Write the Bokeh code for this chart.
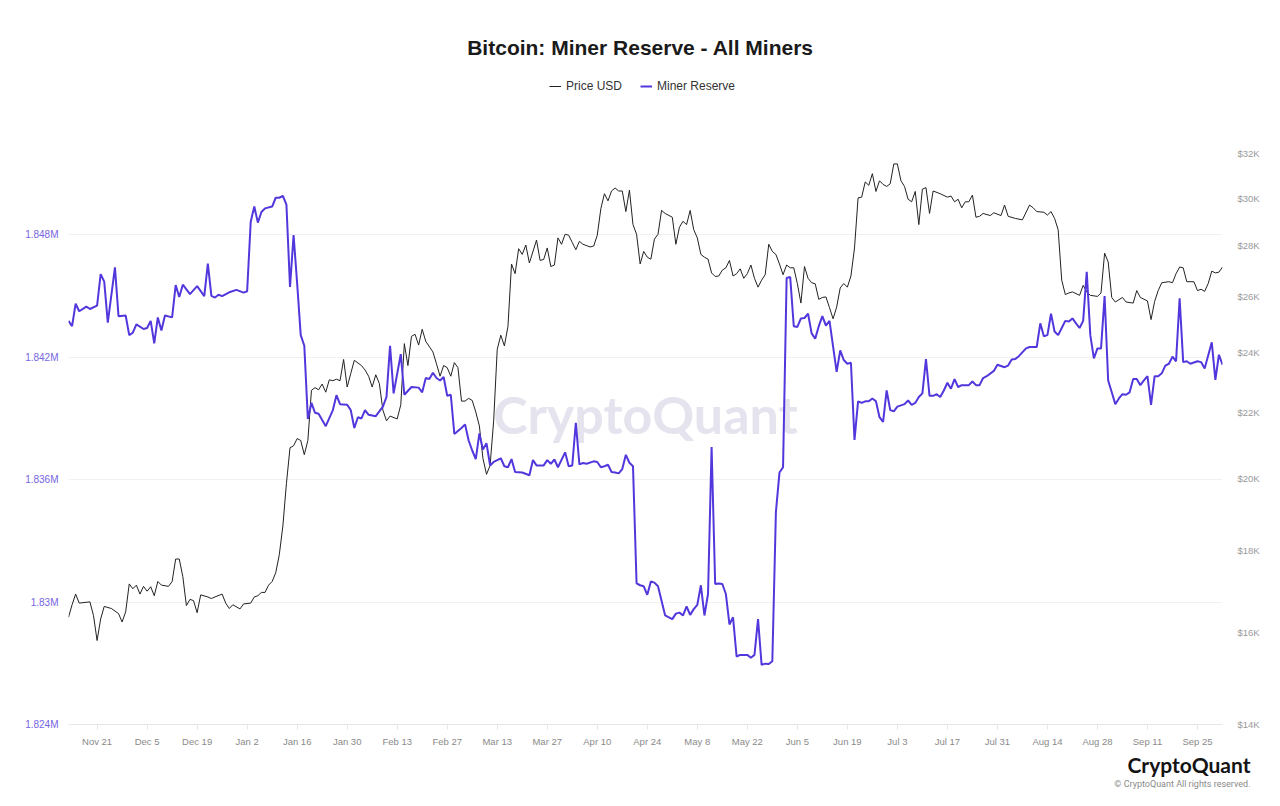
import numpy as np
import pandas as pd
from bokeh.plotting import figure
from bokeh.models import (Range1d, LogAxis, LogScale, FixedTicker, CustomJSTickFormatter,
                          Label, Legend, LegendItem, Title)
from bokeh.embed import file_html
from bokeh.resources import INLINE

# ---------------- data ----------------
START = "2022-11-13"          # day 0 of the series
X_END_DAY = 323               # last day shown on the x axis

reserve_day = [
    0, 1, 2, 3, 5, 6, 8, 9, 10, 11, 13, 14, 16, 17, 18, 19, 21, 22, 23, 24, 25, 26, 27, 29, 30,
    31, 32, 34, 36, 38, 39, 40, 41, 42, 43, 45, 47, 49, 50, 51, 52, 53, 54, 55, 57, 58, 59, 60,
    61, 62, 63, 64, 65, 66, 67, 68, 69, 70, 72, 74, 75, 76, 78, 79, 80, 81, 82, 83, 84, 86, 88,
    89, 90, 91, 93, 94, 96, 98, 99, 100, 101, 102, 103, 104, 105, 106, 107, 108, 110, 111, 112,
    113, 114, 115, 116, 117, 118, 119, 121, 122, 123, 124, 125, 127, 129, 130, 131, 133, 134,
    135, 136, 137, 139, 140, 141, 142, 143, 144, 145, 147, 148, 149, 150, 151, 152, 153, 154,
    155, 156, 157, 158, 159, 160, 161, 162, 163, 164, 165, 167, 169, 170, 171, 172, 173, 174,
    175, 176, 177, 178, 179, 180, 181, 182, 183, 184, 185, 186, 187, 188, 190, 191, 192, 193,
    194, 195, 196, 197, 198, 199, 200, 201, 202, 203, 204, 205, 206, 207, 208, 209, 210, 211,
    212, 213, 215, 216, 217, 218, 219, 220, 221, 222, 223, 224, 225, 226, 227, 228, 229, 230,
    231, 232, 234, 235, 236, 237, 238, 239, 240, 241, 242, 243, 244, 245, 246, 247, 248, 249,
    250, 252, 253, 254, 255, 256, 257, 259, 260, 262, 263, 264, 265, 266, 268, 269, 271, 272,
    273, 274, 275, 276, 277, 278, 279, 280, 281, 282, 283, 284, 285, 286, 287, 288, 289, 290,
    291, 292, 293, 294, 295, 296, 297, 298, 299, 300, 301, 302, 303, 304, 305, 306, 307, 308,
    309, 310, 311, 312, 313, 314, 316, 317, 318, 320, 321, 322, 323,
]
reserve_btc = [
    1843770, 1843510, 1844610, 1844240, 1844470, 1844350, 1844520, 1846060, 1845690, 1843680,
    1846390, 1844000, 1844030, 1843070, 1843190, 1843600, 1843370, 1843420, 1843770, 1842670,
    1843940, 1843300, 1844030, 1843940, 1845520, 1844940, 1845540, 1845080, 1845470, 1844980,
    1846570, 1844990, 1844910, 1845050, 1844980, 1845170, 1845290, 1845150, 1845220, 1848620,
    1849370, 1848580, 1849100, 1849280, 1849370, 1849800, 1849800, 1849890, 1849460, 1845430,
    1847970, 1845600, 1843070, 1842550, 1838960, 1839750, 1839270, 1839220, 1838610, 1839400,
    1840130, 1839690, 1839660, 1839400, 1838520, 1839050, 1838990, 1839400, 1839170, 1839100,
    1839570, 1840040, 1842550, 1840220, 1842140, 1840150, 1840530, 1840500, 1840270, 1840970,
    1840920, 1841230, 1840970, 1840850, 1841020, 1840100, 1840150, 1838230, 1838520, 1838700,
    1837910, 1837420, 1837000, 1838260, 1837470, 1837770, 1836690, 1836860, 1837040, 1836650,
    1836600, 1837000, 1836370, 1836340, 1836210, 1836950, 1836690, 1836690, 1836950, 1836770,
    1836980, 1836600, 1837330, 1836650, 1836690, 1838780, 1836740, 1836810, 1836770, 1836890,
    1836860, 1836600, 1836650, 1836720, 1836370, 1836340, 1836300, 1836510, 1837210, 1836820,
    1836650, 1830910, 1830820, 1830770, 1830350, 1831000, 1830950, 1830770, 1829340, 1829160,
    1829430, 1829480, 1829340, 1829780, 1829370, 1829650, 1829860, 1830820, 1829340, 1830390,
    1837590, 1830880, 1830910, 1830880, 1830390, 1828900, 1829250, 1827330, 1827410, 1827410,
    1827270, 1827410, 1829160, 1826920, 1826980, 1826960, 1827100, 1834410, 1836340, 1836600,
    1845870, 1845920, 1843510, 1843470, 1843890, 1843910, 1844120, 1843160, 1842900, 1843510,
    1844000, 1843540, 1843770, 1841270, 1842320, 1841850, 1841670, 1841720, 1837940, 1839830,
    1839750, 1839830, 1839830, 1839970, 1839830, 1839050, 1838820, 1840360, 1839400, 1839340,
    1839570, 1839690, 1839870, 1839660, 1839750, 1840040, 1840220, 1841900, 1840100, 1840100,
    1840180, 1840040, 1840360, 1840740, 1840450, 1840920, 1840530, 1840620, 1840620, 1840800,
    1840620, 1840620, 1840970, 1841060, 1841320, 1841620, 1841500, 1841580, 1841880, 1841900,
    1842040, 1842420, 1842490, 1842490, 1843650, 1843020, 1843070, 1844120, 1843250, 1843070,
    1843420, 1843770, 1843740, 1843890, 1843650, 1843420, 1843770, 1846170, 1843070, 1841930,
    1842420, 1842420, 1844990, 1840850, 1840270, 1839690, 1839970, 1840180, 1840150, 1840270,
    1840920, 1840920, 1840620, 1840850, 1841060, 1839660, 1841060, 1841060, 1841200, 1841580,
    1841670, 1842020, 1841790, 1844870, 1841750, 1841790, 1841670, 1841790, 1841750, 1841440,
    1842720, 1840880, 1842110, 1841620,
]

price_day = [
    0, 1, 2, 3, 6, 7, 8, 9, 10, 12, 14, 15, 16, 17, 18, 19, 20, 21, 22, 23, 24, 25, 26, 28, 29,
    30, 31, 32, 33, 34, 35, 36, 37, 39, 40, 41, 43, 44, 45, 46, 48, 49, 51, 52, 53, 54, 55, 56,
    57, 58, 59, 60, 61, 62, 63, 64, 65, 66, 67, 68, 69, 70, 71, 72, 73, 74, 75, 76, 77, 78, 79,
    80, 82, 83, 84, 85, 86, 87, 88, 89, 90, 92, 93, 94, 95, 96, 97, 98, 99, 100, 102, 103, 104,
    105, 106, 107, 108, 109, 110, 111, 112, 113, 114, 115, 116, 117, 118, 119, 120, 121, 122,
    123, 124, 125, 126, 127, 128, 129, 131, 132, 133, 134, 135, 136, 137, 138, 139, 140, 141,
    142, 143, 144, 146, 147, 148, 149, 150, 151, 152, 153, 154, 155, 156, 157, 158, 159, 160,
    161, 162, 163, 164, 165, 166, 167, 169, 170, 171, 172, 173, 174, 175, 176, 177, 178, 179,
    180, 181, 182, 183, 184, 185, 186, 187, 188, 189, 190, 191, 192, 193, 194, 195, 196, 197,
    198, 199, 200, 201, 202, 203, 204, 205, 206, 207, 208, 209, 210, 211, 212, 213, 214, 215,
    216, 217, 218, 219, 220, 221, 222, 223, 224, 225, 226, 227, 228, 229, 230, 231, 232, 233,
    234, 235, 236, 237, 238, 239, 240, 241, 242, 244, 246, 247, 248, 249, 250, 251, 252, 253,
    254, 255, 256, 258, 259, 261, 262, 263, 265, 267, 269, 270, 271, 273, 274, 275, 276, 277,
    278, 279, 280, 281, 283, 284, 285, 286, 288, 289, 290, 291, 292, 293, 295, 296, 298, 299,
    300, 302, 303, 304, 305, 306, 308, 309, 310, 311, 312, 313, 315, 316, 317, 318, 319, 320,
    321, 322, 323,
]
price_usd = [
    16350, 16650, 16910, 16690, 16720, 16390, 15810, 16310, 16610, 16560, 16440, 16240, 16480,
    17160, 17040, 17130, 16910, 17100, 16980, 17090, 16870, 17220, 17130, 17100, 17220, 17790,
    17790, 17340, 16630, 16780, 16750, 16460, 16890, 16840, 16800, 16840, 16910, 16690, 16560,
    16650, 16550, 16670, 16690, 16840, 16870, 16950, 16950, 17130, 17220, 17440, 17900, 18660,
    19850, 20900, 20960, 21180, 21120, 20690, 21120, 22710, 22800, 22730, 22920, 22650, 23060,
    23030, 23080, 23030, 23750, 22820, 23270, 23720, 23540, 23390, 23180, 22820, 23230, 22940,
    22070, 21730, 21880, 21790, 22240, 24300, 23540, 24560, 24630, 24250, 24810, 24380, 24010,
    23600, 23180, 23540, 23470, 23180, 23640, 23470, 22360, 22360, 22450, 22380, 22010, 21570,
    20580, 20110, 20370, 21730, 24100, 24600, 24220, 24910, 27270, 26890, 27880, 27650, 28030,
    27310, 28230, 27410, 27450, 27910, 27170, 27230, 28320, 28060, 28470, 28430, 28130, 27840,
    28180, 28060, 27950, 27990, 28430, 29540, 30190, 29880, 30310, 30440, 30310, 30310, 29420,
    30350, 28870, 28470, 27270, 27770, 27540, 27460, 28270, 28470, 29470, 29340, 29180, 28060,
    28760, 29010, 28870, 29470, 28660, 28320, 27650, 27540, 27460, 26920, 26780, 26800, 27030,
    27120, 27410, 26800, 26890, 27080, 26710, 26890, 27230, 26710, 26370, 26640, 26850, 28060,
    27770, 27650, 27270, 26850, 27230, 27120, 27120, 26510, 25770, 27170, 26710, 26540, 26500,
    25910, 25980, 26000, 25600, 25190, 25620, 26340, 26510, 26370, 26800, 27910, 30010, 30040,
    30710, 30560, 31080, 30290, 30760, 30600, 30510, 30630, 31520, 31520, 30760, 30510, 29950,
    29840, 30290, 28870, 30390, 30460, 29340, 30310, 30190, 30040, 30090, 29840, 29950, 29580,
    29840, 29840, 30130, 29180, 29220, 29340, 29250, 29370, 29250, 29700, 29220, 29130, 29070,
    29700, 29580, 29420, 29390, 29270, 29420, 29130, 28660, 26640, 26090, 26150, 26190, 26060,
    26440, 26190, 26060, 26020, 26150, 27700, 27350, 25980, 25810, 25980, 25810, 25770, 26240,
    25980, 25850, 25160, 25830, 26240, 26540, 26580, 26540, 26890, 27150, 27120, 26580, 26580,
    26240, 26290, 26210, 26510, 26990, 26920, 26950, 27150,
]

x_tick_dates = ["2022-11-21", "2022-12-05", "2022-12-19", "2023-01-02", "2023-01-16",
                "2023-01-30", "2023-02-13", "2023-02-27", "2023-03-13", "2023-03-27",
                "2023-04-10", "2023-04-24", "2023-05-08", "2023-05-22", "2023-06-05",
                "2023-06-19", "2023-07-03", "2023-07-17", "2023-07-31", "2023-08-14",
                "2023-08-28", "2023-09-11", "2023-09-25"]
x_tick_labels = ["Nov 21", "Dec 5", "Dec 19", "Jan 2", "Jan 16", "Jan 30", "Feb 13", "Feb 27",
                 "Mar 13", "Mar 27", "Apr 10", "Apr 24", "May 8", "May 22", "Jun 5", "Jun 19",
                 "Jul 3", "Jul 17", "Jul 31", "Aug 14", "Aug 28", "Sep 11", "Sep 25"]
reserve_ticks = [1824000, 1830000, 1836000, 1842000, 1848000]
reserve_tick_labels = ["1.824M", "1.83M", "1.836M", "1.842M", "1.848M"]
price_ticks = [14000, 16000, 18000, 20000, 22000, 24000, 26000, 28000, 30000, 32000]
price_tick_labels = ["$14K", "$16K", "$18K", "$20K", "$22K", "$24K", "$26K", "$28K", "$30K", "$32K"]

assert len(reserve_day) == len(reserve_btc)
assert len(price_day) == len(price_usd)

# ---------------- layout constants ----------------
W, H = 1280, 806
FL, FR, FB = 68, 58, 82           # frame borders (frame reaches the top of the canvas)
FH = H - FB                       # frame height in px (724)
RES_MIN, RES_PX = 1824000, 6000 / 122.5     # left scale: value per pixel
PRICE_MIN, PRICE_LNPX = 14000, 690.7        # right log scale: pixels per e-fold

# ---------------- build ----------------
start = pd.Timestamp(START)
reserve_dates = start + pd.to_timedelta(reserve_day, unit="D")
price_dates = start + pd.to_timedelta(price_day, unit="D")
x_tick_ms = [int(pd.Timestamp(d).value // 10**6) for d in x_tick_dates]

p = figure(width=W, height=H, x_axis_type="datetime",
           x_range=Range1d(start, start + pd.Timedelta(days=X_END_DAY)),
           y_range=Range1d(RES_MIN, RES_MIN + FH * RES_PX),
           output_backend="svg", toolbar_location=None,
           min_border_left=FL, min_border_right=FR, min_border_top=0, min_border_bottom=FB)
p.extra_y_ranges = {"price": Range1d(PRICE_MIN, PRICE_MIN * np.exp(FH / PRICE_LNPX))}
p.extra_y_scales = {"price": LogScale()}
p.outline_line_color = None
p.background_fill_color = "white"
p.border_fill_color = "white"

lookup_code = """
for (let i = 0; i < tvals.length; i++) {
  if (Math.abs(tvals[i] - tick) <= 1e-6 * Math.max(1, Math.abs(tick))) return tlabels[i];
}
return "";
"""

# watermark (under the lines)
p.add_layout(Label(x=645 - FL, y=FH - 413, x_units="screen", y_units="screen", text="CryptoQuant",
                   text_align="center", text_baseline="middle", text_font="Lato",
                   text_font_style="bold", text_font_size="52px", text_color="#e5e3ee",
                   level="underlay"))

price_r = p.line(price_dates, price_usd, y_range_name="price", line_color="#222222", line_width=1)
res_r = p.line(reserve_dates, reserve_btc, line_color="#5138dc", line_width=2)

# x axis
xa = p.xaxis[0]
xa.ticker = FixedTicker(ticks=x_tick_ms)
xa.formatter = CustomJSTickFormatter(args=dict(tvals=x_tick_ms, tlabels=x_tick_labels), code=lookup_code)
xa.axis_line_color = "#e6e6e6"
xa.major_tick_line_color = "#e6e6e6"
xa.major_tick_out = 5
xa.major_tick_in = 0
xa.minor_tick_line_color = None
xa.minor_tick_out = 0
xa.major_label_text_color = "#8a8a8a"
xa.major_label_text_font = "Liberation Sans"
xa.major_label_text_font_size = "9.5px"
xa.major_label_standoff = 6

# left axis (Miner Reserve)
ya = p.yaxis[0]
ya.ticker = FixedTicker(ticks=reserve_ticks)
ya.formatter = CustomJSTickFormatter(args=dict(tvals=reserve_ticks, tlabels=reserve_tick_labels), code=lookup_code)
ya.axis_line_color = None
ya.major_tick_line_color = None
ya.minor_tick_line_color = None
ya.major_tick_out = 0
ya.minor_tick_out = 0
ya.major_label_text_color = "#7565e2"
ya.major_label_text_font = "Liberation Sans"
ya.major_label_text_font_size = "10px"
ya.major_label_standoff = 10

# right axis (Price, log)
ra = LogAxis(y_range_name="price")
ra.ticker = FixedTicker(ticks=price_ticks)
ra.formatter = CustomJSTickFormatter(args=dict(tvals=price_ticks, tlabels=price_tick_labels), code=lookup_code)
ra.axis_line_color = None
ra.major_tick_line_color = None
ra.minor_tick_line_color = None
ra.major_tick_out = 0
ra.minor_tick_out = 0
ra.major_label_text_color = "#9a9a9a"
ra.major_label_text_font = "Liberation Sans"
ra.major_label_text_font_size = "9.5px"
ra.major_label_standoff = 15
p.add_layout(ra, "right")

p.xgrid.visible = False
p.ygrid.ticker = FixedTicker(ticks=reserve_ticks[1:])
p.ygrid.grid_line_color = "#f1f1f1"

# title (inside the frame area, which reaches the canvas top)
p.add_layout(Label(x=640 - FL, y=FH - 47, x_units="screen", y_units="screen",
                   text="Bitcoin: Miner Reserve - All Miners", text_align="center",
                   text_baseline="middle", text_font="Liberation Sans", text_font_style="bold",
                   text_font_size="21px", text_color="#1a1a1a"))

# legend
legend = Legend(items=[LegendItem(label="Price USD", renderers=[price_r]),
                       LegendItem(label="Miner Reserve", renderers=[res_r])],
                orientation="horizontal", location=(549 - FL, FH - 93),
                glyph_width=12, glyph_height=12, label_height=12, label_standoff=5,
                spacing=18, padding=0, margin=0, border_line_color=None,
                background_fill_alpha=0, label_text_font="Liberation Sans",
                label_text_font_size="12px", label_text_color="#333333")
p.add_layout(legend)

# bottom-right brand (below the x axis)
p.add_layout(Title(text="CryptoQuant", align="right", offset=-28, standoff=0,
                   text_font="Lato", text_font_size="21px", text_font_style="bold",
                   text_color="#141414"), "below")
p.add_layout(Title(text="© CryptoQuant All rights reserved.", align="right", offset=-28,
                   standoff=0, text_font="Roboto", text_font_size="9px",
                   text_font_style="normal", text_color="#8a8a8a"), "below")

open("out.html", "w").write(file_html(p, INLINE))
